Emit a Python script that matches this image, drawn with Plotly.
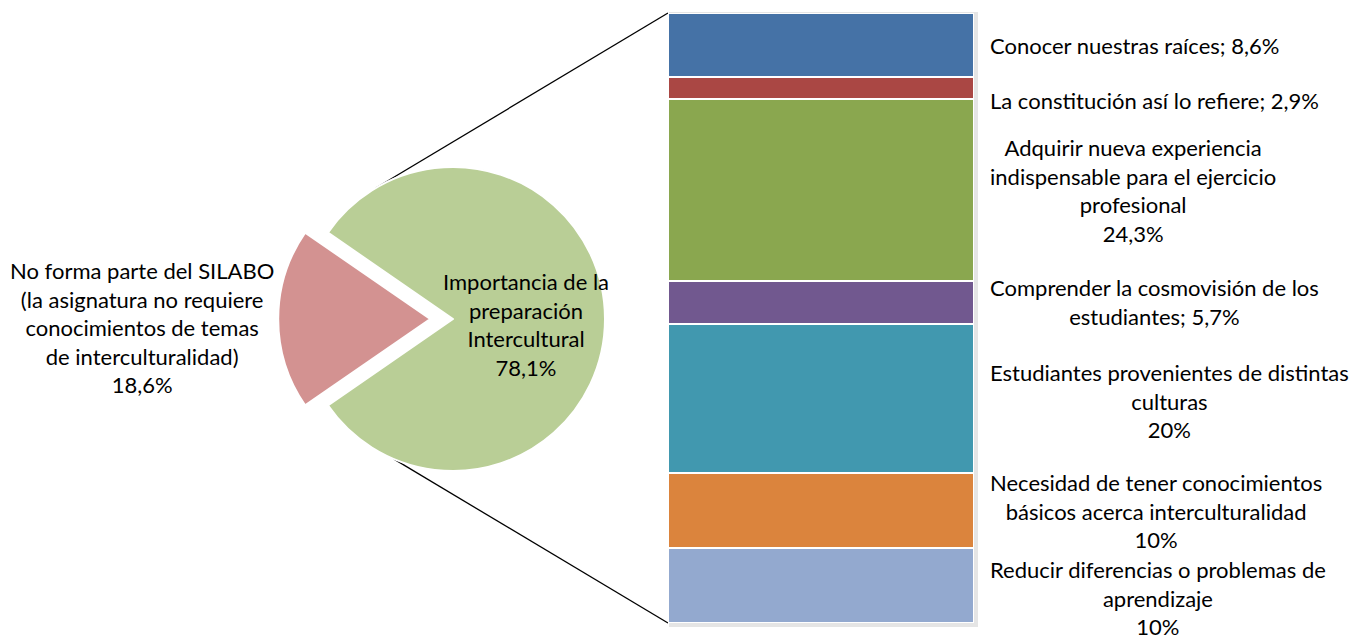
import math
import plotly.graph_objects as go

# Pie: overall answer split
pie_labels = [
    "No forma parte del SILABO<br>(la asignatura no requiere<br>conocimientos de temas<br>de interculturalidad)",
    "Importancia de la<br>preparación<br>Intercultural",
]
pie_values = [18.6, 78.1]
pie_colors = ["#D39291", "#B9CE96"]

# Bar: breakdown of the reasons (top to bottom)
bar_labels = [
    "Conocer nuestras raíces",
    "La constitución así lo refiere",
    "Adquirir nueva experiencia<br>indispensable para el ejercicio<br>profesional",
    "Comprender la cosmovisión de los<br>estudiantes",
    "Estudiantes provenientes de distintas<br>culturas",
    "Necesidad de tener conocimientos<br>básicos acerca interculturalidad",
    "Reducir diferencias o problemas de<br>aprendizaje",
]
bar_values = [8.6, 2.9, 24.3, 5.7, 20, 10, 10]
bar_separators = ["; ", "; ", "<br>", "; ", "<br>", "<br>", "<br>"]
bar_colors = ["#4572A6", "#AA4744", "#8AA74F", "#71588F", "#4198AF", "#DB843D", "#93A9CF"]
bar_label_yshift = [0, -12, 0, 0, -3, 0, -12]

W, H = 1368, 641
FONT = dict(family="Lato, Carlito, Calibri, sans-serif", size=22, color="#000000")


def pct(v):
    s = f"{v:.1f}".rstrip("0").rstrip(".")
    return s.replace(".", ",") + "%"


# Pie geometry (pixels)
pie_cx, pie_cy, pie_r = 453, 319, 152
pie_pull = 0.15
box = 2 * pie_r * (1 + pie_pull)
pie_domain_x = [(pie_cx - box / 2) / W, (pie_cx + box / 2) / W]
pie_domain_y = [(H - pie_cy - box / 2) / H, (H - pie_cy + box / 2) / H]

# First slice centred on the left (270 degrees clockwise from 12 o'clock)
red_span = 360 * pie_values[0] / sum(pie_values)
rotation = 270 - red_span / 2

# Bar geometry (pixels)
bar_left, bar_right, bar_top, bar_bottom = 668, 974, 13, 623
total = sum(bar_values)

fig = go.Figure()

fig.add_trace(go.Pie(
    labels=["a", "b"],
    values=pie_values,
    sort=False,
    direction="clockwise",
    rotation=rotation,
    pull=[pie_pull, 0],
    marker=dict(colors=pie_colors, line=dict(color="white", width=2)),
    textinfo="none",
    hoverinfo="skip",
    showlegend=False,
    domain=dict(x=pie_domain_x, y=pie_domain_y),
))

for lab, val, col in zip(bar_labels, bar_values, bar_colors):
    fig.add_trace(go.Bar(
        x=[0], y=[val], width=1,
        marker=dict(color=col, line=dict(color="white", width=2)),
        hoverinfo="skip", showlegend=False,
    ))

# Labels beside each bar segment
cum = 0
for lab, val, sep, ys in zip(bar_labels, bar_values, bar_separators, bar_label_yshift):
    mid = cum + val / 2
    cum += val
    fig.add_annotation(
        x=0.5, y=mid, xref="x", yref="y",
        text=lab + sep + pct(val),
        showarrow=False, xanchor="left", yanchor="middle",
        align="center", xshift=14, yshift=ys, font=FONT,
    )

# Pie labels
fig.add_annotation(
    x=142 / W, y=(H - 327) / H, xref="paper", yref="paper",
    text=pie_labels[0] + "<br>" + pct(pie_values[0]),
    showarrow=False, xanchor="center", yanchor="middle", align="center", font=FONT,
)
fig.add_annotation(
    x=(pie_cx + 0.48 * pie_r) / W, y=(H - pie_cy - 5) / H, xref="paper", yref="paper",
    text=pie_labels[1] + "<br>" + pct(pie_values[1]),
    showarrow=False, xanchor="center", yanchor="middle", align="center", font=FONT,
)

# Connector lines from the pie rim to the bar corners
for ang, by in [(-30.5, bar_top), (203, bar_bottom)]:
    a = math.radians(ang)
    px = pie_cx + pie_r * math.sin(a)
    py = pie_cy - pie_r * math.cos(a)
    fig.add_shape(
        type="line", xref="paper", yref="paper",
        x0=px / W, y0=(H - py) / H, x1=bar_left / W, y1=(H - by) / H,
        line=dict(color="#000000", width=1.3), layer="below",
    )

# Soft shadow behind the bar
fig.add_shape(
    type="rect", xref="paper", yref="paper",
    x0=(bar_left + 1) / W, x1=(bar_right + 4) / W,
    y0=(H - bar_bottom - 4) / H, y1=(H - bar_top + 1) / H,
    fillcolor="rgba(0,0,0,0.10)", line=dict(width=0), layer="below",
)

fig.update_layout(
    width=W, height=H,
    margin=dict(l=0, r=0, t=0, b=0),
    paper_bgcolor="white", plot_bgcolor="rgba(0,0,0,0)",
    barmode="stack", bargap=0,
    xaxis=dict(domain=[bar_left / W, bar_right / W], range=[-0.5, 0.5],
               visible=False, fixedrange=True),
    yaxis=dict(domain=[(H - bar_bottom) / H, (H - bar_top) / H], range=[total, 0],
               visible=False, fixedrange=True),
    font=FONT,
)

fig.write_html("out.html")
